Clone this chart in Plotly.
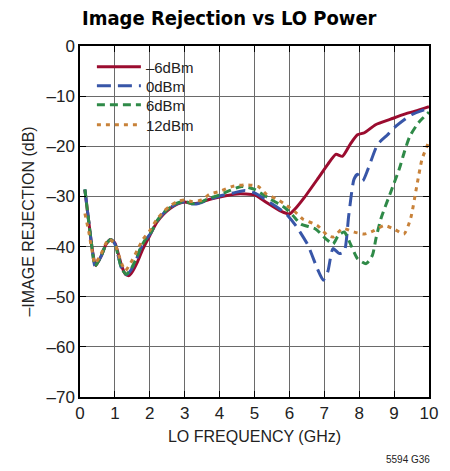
import plotly.graph_objects as go

# ---- data ----
red_x = [0.14,0.25,0.35,0.45,0.6,0.75,0.88,1.0,1.1,1.2,1.3,1.4,1.5,1.65,1.8,2.0,2.2,2.4,2.6,2.8,3.0,3.2,3.4,3.7,4.0,4.5,5.0,5.3,5.77,6.0,6.2,6.43,6.8,7.1,7.33,7.52,7.75,7.95,8.15,8.47,8.9,9.3,9.6,10.0]
red_y = [-28.7,-35,-40.5,-43.8,-42,-39.5,-38.6,-39.3,-41.5,-44,-45.5,-45.8,-45,-43,-40.5,-37.8,-35.2,-33.5,-32.3,-31.5,-31.1,-31.4,-31.3,-30.6,-30.1,-29.5,-29.7,-31,-33,-33.5,-32.2,-30.2,-26.6,-23.6,-21.6,-22,-19.5,-17.7,-17.3,-15.7,-14.6,-13.6,-13,-12.1]

blue_x = [0.14,0.25,0.35,0.43,0.6,0.75,0.88,1.0,1.1,1.2,1.33,1.45,1.6,1.75,1.9,2.03,2.2,2.4,2.6,2.8,3.0,3.2,3.4,3.7,4.0,4.4,4.73,5.0,5.4,5.88,6.2,6.53,6.8,6.97,7.1,7.25,7.43,7.57,7.7,7.85,7.95,8.1,8.25,8.53,8.8,9.0,9.5,10.0]
blue_y = [-28.6,-35,-40.5,-43.9,-42,-39.5,-38.6,-39.5,-42,-44.5,-45.6,-44.8,-42.8,-40.2,-38.5,-37.3,-35,-33.3,-32.2,-31.4,-31.1,-31.5,-31.4,-30.6,-29.9,-29.3,-28.8,-29.3,-31,-33.3,-36,-39.7,-44.4,-46.7,-45,-40.4,-41.4,-41,-33.8,-26.6,-25.6,-26.9,-24.6,-19.6,-17.8,-16.3,-13.7,-12.4]

green_x = [0.14,0.25,0.35,0.43,0.6,0.75,0.88,1.0,1.1,1.2,1.33,1.45,1.6,1.75,1.9,2.03,2.2,2.4,2.6,2.8,3.0,3.2,3.4,3.7,4.0,4.3,4.63,5.0,5.4,5.88,6.1,6.33,6.75,7.05,7.25,7.4,7.57,7.77,7.95,8.2,8.38,8.48,8.62,8.9,9.15,9.3,9.45,9.7,10.0]
green_y = [-28.6,-35,-40.5,-43.9,-42,-39.5,-38.6,-39.5,-42,-44.5,-45.5,-44.6,-42.6,-40,-38.3,-37.2,-34.9,-33.2,-32.1,-31.3,-31,-31.4,-31.3,-30.4,-29.7,-28.8,-28,-28.6,-30.3,-32.3,-33.8,-35.5,-36.5,-38.5,-39.5,-37.8,-37.1,-39.8,-42.4,-43.4,-41.7,-38.4,-34.5,-29.2,-24.5,-21,-18,-15.3,-13.2]

orange_x = [0.14,0.25,0.35,0.43,0.6,0.82,1.0,1.1,1.2,1.3,1.45,1.65,1.8,2.0,2.2,2.4,2.6,2.8,3.0,3.2,3.5,3.7,4.0,4.37,4.73,5.1,5.35,5.63,5.92,6.15,6.38,6.8,7.1,7.25,7.53,7.85,8.15,8.43,8.72,9.0,9.28,9.47,9.65,9.8,10.0]
orange_y = [-33.4,-37,-41,-43.4,-41.5,-38.5,-39.5,-41.5,-43.5,-44.8,-43.3,-40.6,-38.6,-36.8,-34.6,-33,-31.8,-31,-30.7,-31,-30.7,-29.6,-29,-28,-27.7,-28,-29.6,-30.5,-31.8,-33,-34.5,-35.8,-37.8,-38.1,-36.4,-37.1,-37.5,-36.8,-35.8,-36.5,-37.5,-34.5,-27.9,-22.6,-19]

series_names = ["\u20136dBm", "0dBm", "6dBm", "12dBm"]
x_ticks = [0, 1, 2, 3, 4, 5, 6, 7, 8, 9, 10]
y_ticks = [0, -10, -20, -30, -40, -50, -60, -70]
y_tick_text = ["0", "\u201310", "\u201320", "\u201330", "\u201340", "\u201350", "\u201360", "\u201370"]

FONT = "Liberation Sans, Arial, sans-serif"
TITLE_FONT = "DejaVu Sans Condensed, Liberation Sans, sans-serif"

L, R, T, B = 80, 18, 46, 74
PW = 450 - L - R
PH = 471 - T - B

fig = go.Figure()
styles = [
    (red_x, red_y, "#9b0c2f", "solid"),
    (blue_x, blue_y, "#3856a8", "14px,7px"),
    (green_x, green_y, "#2f8a48", "8px,5px"),
    (orange_x, orange_y, "#c8823a", "4px,5px"),
]
legend_ids = ["legend", "legend2", "legend3", "legend4"]
legend_rows_px = [67, 86, 105, 125]
for name, lid, (xs, ys, col, dash) in zip(series_names, legend_ids, styles):
    fig.add_trace(go.Scatter(
        x=xs, y=ys, mode="lines", name=name, legend=lid,
        line=dict(color=col, width=3, dash=dash, shape="spline", smoothing=0.6),
    ))

axis_common = dict(
    showgrid=True, gridcolor="#6a6a6a", gridwidth=1,
    showline=True, linecolor="black", linewidth=1.5, mirror="ticks",
    ticks="inside", ticklen=6, tickcolor="black",
    zeroline=False,
    tickfont=dict(family=FONT, size=17, color="#222"),
)
fig.update_xaxes(range=[0, 10], tickvals=x_ticks,
                 title=dict(text="LO FREQUENCY (GHz)", font=dict(family=FONT, size=16, color="#222"), standoff=9),
                 **axis_common)
fig.update_yaxes(range=[-70, 0], tickvals=y_ticks, ticktext=y_tick_text,
                 title=dict(text="\u2013IMAGE REJECTION (dB)", font=dict(family=FONT, size=16, color="#222"), standoff=8),
                 **axis_common)

legends = {}
for lid, py in zip(legend_ids, legend_rows_px):
    legends[lid] = dict(x=(92 - L) / PW, y=1 - (py - T) / PH, xanchor="left", yanchor="middle",
                        bgcolor="rgba(0,0,0,0)", borderwidth=0,
                        font=dict(family=FONT, size=15, color="#222"),
                        itemwidth=44)

fig.update_layout(
    width=450, height=471,
    margin=dict(l=L, r=R, t=T, b=B),
    paper_bgcolor="white", plot_bgcolor="white",
    title=dict(text="<b>Image Rejection vs LO Power</b>", x=82/450, xanchor="left",
               y=1 - 18/471, yanchor="middle",
               font=dict(family=TITLE_FONT, size=20, color="black")),
    showlegend=True,
    shapes=[dict(type="rect", xref="paper", yref="paper", layer="between",
                 x0=(83 - L) / PW, x1=(208 - L) / PW,
                 y0=1 - (136 - T) / PH, y1=1 - (49 - T) / PH,
                 fillcolor="white", line=dict(width=0))],
    annotations=[dict(text="5594 G36", xref="paper", yref="paper",
                      x=1, xshift=3, y=-(459 - T - PH) / PH, xanchor="right", yanchor="middle",
                      showarrow=False, font=dict(family=FONT, size=10, color="#222"))],
    **legends,
)

fig.write_html("out.html", config={"displayModeBar": False},
               post_script="document.body.style.margin='0';")
